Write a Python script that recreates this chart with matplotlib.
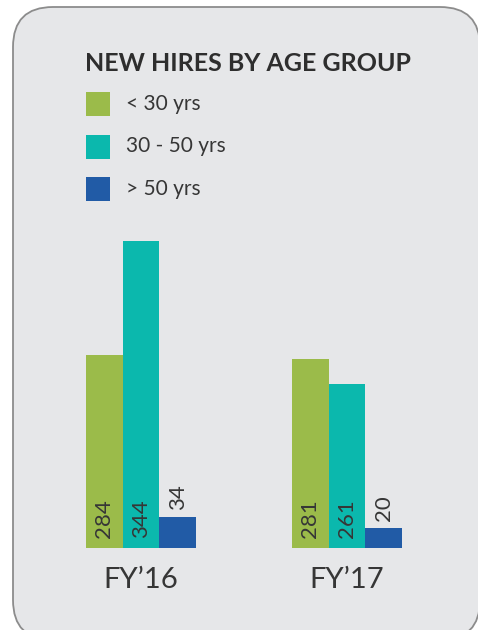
import matplotlib
matplotlib.use("Agg")
import matplotlib.pyplot as plt
from matplotlib.patches import FancyBboxPatch, Rectangle
import numpy as np

# ---------- Data ----------
years = ["FY\u201916", "FY\u201917"]
groups = ["< 30 yrs", "30 - 50 yrs", "> 50 yrs"]
colors = ["#9bbb4a", "#0bb8ad", "#215ba6"]
# printed values
hires = {
    "< 30 yrs": [284, 281],
    "30 - 50 yrs": [344, 261],
    "> 50 yrs": [34, 20],
}
# bar lengths as drawn in the source (it is not to scale)
bar_len = {
    "< 30 yrs": [193, 189],
    "30 - 50 yrs": [307, 164],
    "> 50 yrs": [31, 20],
}

txt = "#363636"
font = ["Lato", "DejaVu Sans"]
plt.rcParams["font.family"] = font

W, H = 478, 630
fig = plt.figure(figsize=(W / 100, H / 100), dpi=100)
fig.patch.set_facecolor("white")

# ---------- Background panel, title and legend (pixel axes) ----------
bg = fig.add_axes([0, 0, 1, 1])
bg.set_xlim(0, W)
bg.set_ylim(H, 0)
bg.axis("off")

panel = FancyBboxPatch((13 + 40, 7 + 40), 480 - 13 - 80, 640 - 7 - 80,
                       boxstyle="round,pad=40", facecolor="#e6e7e9",
                       edgecolor="#8c8c8c", linewidth=1.3)
bg.add_patch(panel)

bg.text(85, 71, "NEW HIRES BY AGE GROUP", fontsize=18, fontweight="bold",
        color="#2e2e2e", ha="left", va="baseline")

for i, (g, c) in enumerate(zip(groups, colors)):
    y0 = 92 + i * 42.5
    bg.add_patch(Rectangle((86, y0), 24, 24, facecolor=c, edgecolor="none"))
    bg.text(126, y0 + 12, g, fontsize=15, color=txt, ha="left", va="center")

# ---------- Bars ----------
ax = fig.add_axes([38 / W, 82 / H, 412 / W, 330 / H])
ax.set_facecolor("none")
ax.set_xlim(-0.5, 1.5)
ax.set_ylim(0, 330)
ax.axis("off")

x = np.arange(len(years))
bw = 0.178
for i, (g, c) in enumerate(zip(groups, colors)):
    xs = x + (i - 1) * bw
    ax.bar(xs, bar_len[g], width=bw, color=c, edgecolor="none")
    for xi, h, v in zip(xs, bar_len[g], hires[g]):
        if g == "> 50 yrs":
            ax.text(xi, h + 7, str(v), rotation=90, ha="center", va="bottom",
                    fontsize=16, color=txt)
        else:
            ax.text(xi, 10, str(v), rotation=90, ha="center", va="bottom",
                    fontsize=16, color=txt)

for xi, yr in zip(x, years):
    ax.text(xi, -40, yr, ha="center", va="baseline", fontsize=21, color=txt,
            clip_on=False)

fig.savefig("out.png", dpi=100)
